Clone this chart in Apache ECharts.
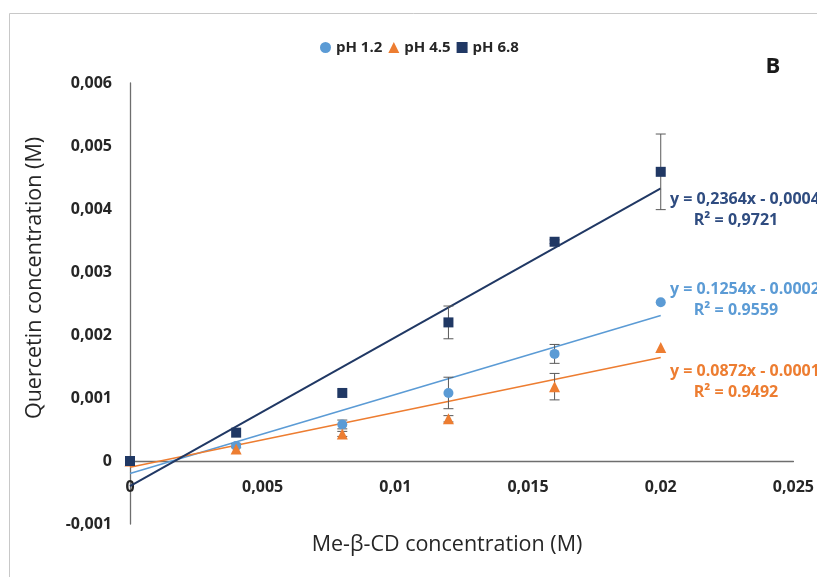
<!DOCTYPE html>
<html>
<head>
<meta charset="utf-8">
<script src="https://cdn.jsdelivr.net/npm/echarts@6/dist/echarts.min.js"></script>
<style>
  html, body { margin: 0; padding: 0; background: #ffffff; }
  #chart { width: 817px; height: 577px; }
</style>
</head>
<body>
<div id="chart"></div>
<script>
// Me-β-CD concentration (M) for each measurement
const concentrations = [0, 0.004, 0.008, 0.012, 0.016, 0.02];

// Quercetin concentration (M) and standard deviation per pH
const ph12 = [0, 0.00024, 0.00058, 0.00108, 0.0017, 0.00252];
const ph12Err = [0, 0.00003, 0.00007, 0.00025, 0.00015, 0];
const ph45 = [0, 0.00019, 0.00043, 0.00067, 0.00118, 0.0018];
const ph45Err = [0, 0, 0.00004, 0.00005, 0.00021, 0];
const ph68 = [0, 0.00045, 0.00108, 0.0022, 0.00348, 0.00459];
const ph68Err = [0, 0, 0, 0.00026, 0.00003, 0.0006];

const seriesNames = ['pH 1.2', 'pH 4.5', 'pH 6.8'];
const seriesColors = ['#5b9bd5', '#ed7d31', '#203864'];
const seriesSymbols = ['circle', 'triangle', 'rect'];
const seriesSizes = [10, 11, 10];

// Linear fits (y = slope·x + intercept) and their R²
const fitSlope = [0.1254, 0.0872, 0.2364];
const fitIntercept = [-0.0002, -0.0001, -0.0004];
const fitEquation = ['y = 0.1254x - 0.0002', 'y = 0.0872x - 0.0001', 'y = 0,2364x - 0,0004'];
const fitR2 = ['R² = 0.9559', 'R² = 0.9492', 'R² = 0,9721'];
const fitRange = [0, 0.02];

const xTickLabels = ['0', '0,005', '0,01', '0,015', '0,02', '0,025'];
const yTickLabels = ['-0,001', '0', '0,001', '0,002', '0,003', '0,004', '0,005', '0,006'];

const values = [ph12, ph45, ph68];
const errors = [ph12Err, ph45Err, ph68Err];

const chart = echarts.init(document.getElementById('chart'), null, { renderer: 'canvas' });

const series = [];

// regression lines
values.forEach((v, i) => {
  series.push({
    name: 'fit ' + seriesNames[i],
    type: 'line',
    data: fitRange.map(x => [x, fitSlope[i] * x + fitIntercept[i]]),
    showSymbol: false,
    symbol: 'none',
    lineStyle: { color: seriesColors[i], width: i === 2 ? 2 : 1.6 },
    silent: true,
    z: 2
  });
});

// error bars
values.forEach((v, i) => {
  const bars = [];
  concentrations.forEach((x, k) => {
    if (errors[i][k] > 0) bars.push([x, v[k] - errors[i][k], v[k] + errors[i][k]]);
  });
  series.push({
    name: 'sd ' + seriesNames[i],
    type: 'custom',
    data: bars,
    silent: true,
    z: 3,
    renderItem: function (params, api) {
      const hi = api.coord([api.value(0), api.value(2)]);
      const lo = api.coord([api.value(0), api.value(1)]);
      const w = 5;
      const style = { stroke: '#595959', lineWidth: 1 };
      return {
        type: 'group',
        children: [
          { type: 'line', shape: { x1: hi[0], y1: hi[1], x2: lo[0], y2: lo[1] }, style: style },
          { type: 'line', shape: { x1: hi[0] - w, y1: hi[1], x2: hi[0] + w, y2: hi[1] }, style: style },
          { type: 'line', shape: { x1: lo[0] - w, y1: lo[1], x2: lo[0] + w, y2: lo[1] }, style: style }
        ]
      };
    }
  });
});

// measured points
values.forEach((v, i) => {
  series.push({
    name: seriesNames[i],
    type: 'scatter',
    data: concentrations.map((x, k) => [x, v[k]]),
    symbol: seriesSymbols[i],
    symbolSize: seriesSizes[i],
    itemStyle: { color: seriesColors[i], opacity: 1 },
    z: 4 + i
  });
});

const labelFont = '"Open Sans", "DejaVu Sans", sans-serif';

chart.setOption({
  backgroundColor: '#ffffff',
  animation: false,
  grid: { left: 130, right: 22, top: 83, bottom: 53 },
  legend: {
    data: seriesNames,
    left: 315,
    top: 35,
    itemWidth: 11,
    itemHeight: 11,
    itemGap: 6,
    textStyle: { fontFamily: labelFont, fontWeight: 'bold', fontSize: 15, color: '#262626' }
  },
  xAxis: {
    type: 'value',
    min: 0,
    max: 0.025,
    interval: 0.005,
    splitLine: { show: false },
    axisTick: { show: false },
    axisLine: { onZero: true, lineStyle: { color: '#6e6e6e', width: 1.3 } },
    axisLabel: {
      inside: true,
      margin: 29,
      fontFamily: labelFont,
      fontWeight: 'bold',
      fontSize: 16,
      color: '#262626',
      formatter: (val, idx) => xTickLabels[idx]
    }
  },
  yAxis: {
    type: 'value',
    min: -0.001,
    max: 0.006,
    interval: 0.001,
    splitLine: { show: false },
    axisTick: { show: false },
    axisLine: { show: true, lineStyle: { color: '#6e6e6e', width: 1.3 } },
    axisLabel: {
      margin: 18,
      fontFamily: labelFont,
      fontWeight: 'bold',
      fontSize: 16,
      color: '#262626',
      formatter: (val, idx) => yTickLabels[idx]
    }
  },
  series: series
});

// annotation texts: axis titles, panel letter, fit equations
const eqColors = ['#5b9bd5', '#ed7d31', '#2f4c80'];
const eqTop = [289, 371, 199];
const titleFont = '21.5px ' + labelFont;
const graphics = [
  { type: 'rect', shape: { x: 9.5, y: 13.5, width: 900, height: 700 },
    style: { fill: null, stroke: '#c8c8c8', lineWidth: 1 }, silent: true, z: 0 },
  { type: 'text', x: 447, y: 545, z: 10,
    style: { text: 'Me-β-CD concentration (M)', fill: '#262626', font: titleFont,
      textAlign: 'center', textVerticalAlign: 'middle' } },
  { type: 'text', x: 35, y: 278, rotation: Math.PI / 2, z: 10,
    style: { text: 'Quercetin concentration (M)', fill: '#262626', font: titleFont,
      textAlign: 'center', textVerticalAlign: 'middle' } },
  { type: 'text', x: 773, y: 67, z: 10,
    style: { text: 'B', fill: '#1a1a1a', font: 'bold 22px ' + labelFont,
      textAlign: 'center', textVerticalAlign: 'middle' } }
];
[0, 1, 2].forEach(i => {
  graphics.push({ type: 'text', x: 670, y: eqTop[i], z: 10,
    style: { text: fitEquation[i], fill: eqColors[i], font: 'bold 16px ' + labelFont,
      textAlign: 'left', textVerticalAlign: 'middle' } });
  graphics.push({ type: 'text', x: 736, y: eqTop[i] + 21, z: 10,
    style: { text: fitR2[i], fill: eqColors[i], font: 'bold 16px ' + labelFont,
      textAlign: 'center', textVerticalAlign: 'middle' } });
});
chart.setOption({ graphic: graphics });
</script>
</body>
</html>
